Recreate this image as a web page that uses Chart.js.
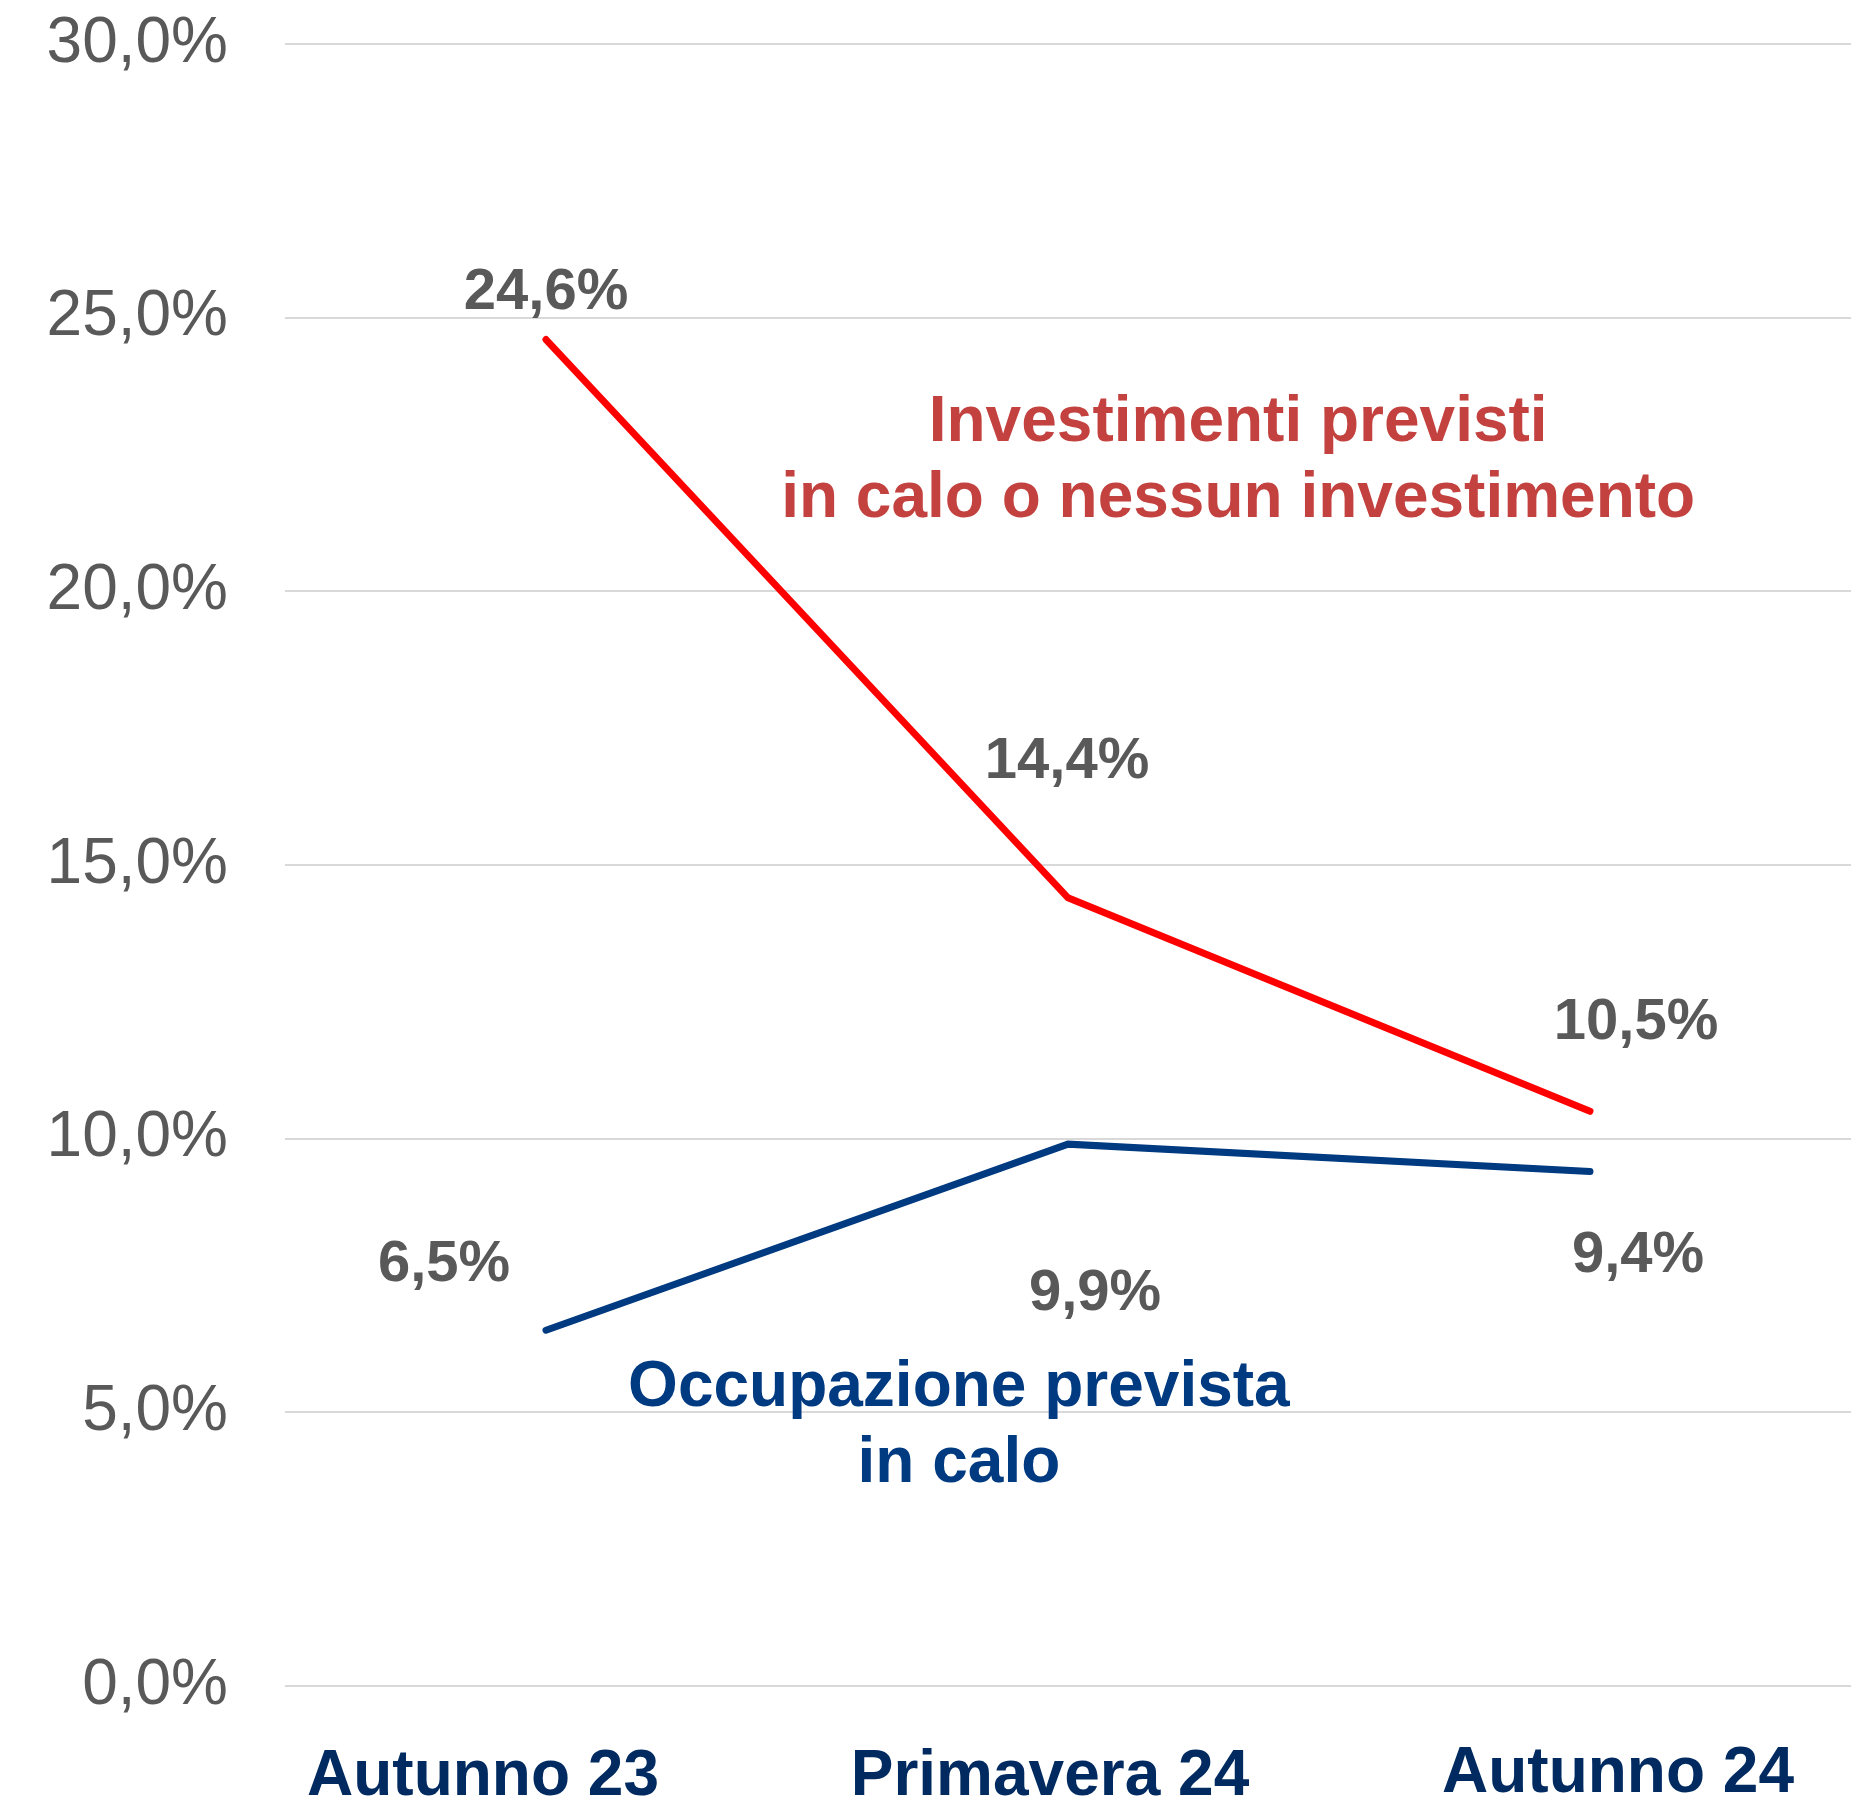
<!DOCTYPE html>
<html>
<head>
<meta charset="utf-8">
<script src="https://cdn.jsdelivr.net/npm/chart.js@4/dist/chart.umd.min.js"></script>
<style>
html,body{margin:0;padding:0;background:#fff;}
#wrap{width:1865px;height:1800px;}
</style>
</head>
<body>
<div id="wrap"><canvas id="c" width="1865" height="1800"></canvas></div>
<script>
// ---- data ----
const categories = ["Autunno 23", "Primavera 24", "Autunno 24"];
const investimenti = [24.6, 14.4, 10.5];
const occupazione = [6.5, 9.9, 9.4];
const yTicks = [0, 5, 10, 15, 20, 25, 30];
const investLabel = ["Investimenti previsti", "in calo o nessun investimento"];
const occupLabel = ["Occupazione prevista", "in calo"];

// ---- styles ----
const RED = "#FF0000";
const BLUE = "#003A80";
const GREY = "#595959";
const NAVY = "#002A60";
const FONT = "'Liberation Sans', Arial, sans-serif";

const fmt = v => v.toFixed(1).replace('.', ',') + '%';

// per-label offsets (px) from the point
const labelOffsets = {
  0: [[0, -47], [-1, -136], [46, -88]],
  1: [[-102, -65], [27, 150], [48, 84]]
};
const xLabelOffsets = [-63, -18, 28];
const xLabelDy = [0, 0, -3];

const annotations = [
  { lines: investLabel, color: "#C3423F", xIndex: 1.326, yValue: 22.38 },
  { lines: occupLabel, color: BLUE, xIndex: 0.791, yValue: 4.75 }
];

const drawPlugin = {
  id: 'customText',
  afterDatasetsDraw(chart) {
    const ctx = chart.ctx;
    const xs = chart.scales.x, ys = chart.scales.y;
    ctx.save();
    // data labels
    ctx.font = "bold 58px " + FONT;
    ctx.fillStyle = GREY;
    ctx.textAlign = 'center';
    ctx.textBaseline = 'middle';
    chart.data.datasets.forEach((ds, di) => {
      const meta = chart.getDatasetMeta(di);
      meta.data.forEach((pt, i) => {
        const off = labelOffsets[di][i];
        ctx.fillText(fmt(ds.data[i]), pt.x + off[0], pt.y + off[1]);
      });
    });
    // x labels
    ctx.font = "bold 64px " + FONT;
    ctx.fillStyle = NAVY;
    ctx.textBaseline = 'alphabetic';
    chart.data.labels.forEach((lab, i) => {
      const x = xs.getPixelForValue(i) + xLabelOffsets[i];
      ctx.fillText(lab, x, xs.top + 109 + xLabelDy[i]);
    });
    // annotations
    annotations.forEach(a => {
      const x0 = xs.getPixelForValue(0), x1 = xs.getPixelForValue(1);
      const cx = x0 + (x1 - x0) * a.xIndex;
      const cy = ys.getPixelForValue(a.yValue);
      ctx.fillStyle = a.color;
      ctx.font = "bold 64px " + FONT;
      ctx.textBaseline = 'middle';
      const lh = 76;
      const start = cy - lh * (a.lines.length - 1) / 2;
      a.lines.forEach((l, k) => ctx.fillText(l, cx, start + k * lh));
    });
    ctx.restore();
  }
};

new Chart(document.getElementById('c'), {
  type: 'line',
  data: {
    labels: categories,
    datasets: [
      { label: 'Investimenti previsti in calo o nessun investimento', data: investimenti,
        borderColor: RED, borderWidth: 7, pointRadius: 0, tension: 0, borderCapStyle: 'round', fill: false },
      { label: 'Occupazione prevista in calo', data: occupazione,
        borderColor: BLUE, borderWidth: 7, pointRadius: 0, tension: 0, borderCapStyle: 'round', fill: false }
    ]
  },
  options: {
    responsive: false,
    animation: false,
    devicePixelRatio: 1,
    layout: { padding: { left: 0, right: 14, top: 44, bottom: 0 } },
    plugins: { legend: { display: false }, tooltip: { enabled: false } },
    scales: {
      x: {
        offset: true,
        grid: { display: false },
        border: { display: false },
        ticks: { display: false },
        afterFit(s) { s.height = 114; s.paddingLeft = 0; s.paddingRight = 0; }
      },
      y: {
        min: 0, max: 30,
        afterBuildTicks(s) { s.ticks = yTicks.map(v => ({ value: v })); },
        grid: { color: '#D9D9D9', lineWidth: 2, drawTicks: false },
        border: { display: false },
        ticks: {
          padding: 57,
          color: GREY,
          font: { family: FONT, size: 64 },
          callback: v => fmt(v)
        },
        afterFit(s) { s.width = 285; s.paddingTop = 0; s.paddingBottom = 0; }
      }
    }
  },
  plugins: [drawPlugin]
});
</script>
</body>
</html>
